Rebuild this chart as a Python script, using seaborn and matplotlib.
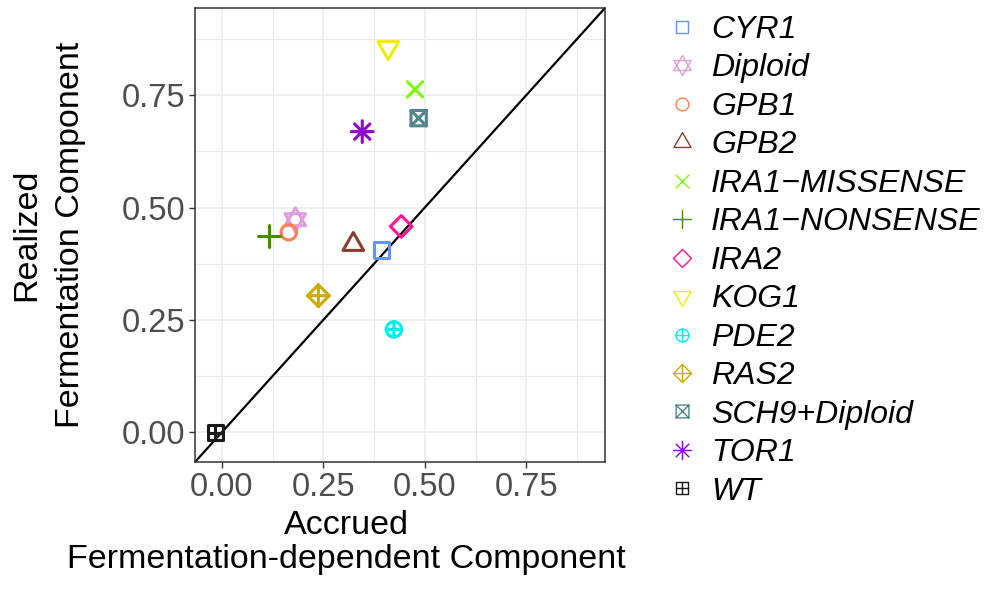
import numpy as np
import pandas as pd
import matplotlib
matplotlib.use("Agg")
import matplotlib.pyplot as plt
from matplotlib.path import Path
from matplotlib.markers import MarkerStyle
from matplotlib.lines import Line2D
from matplotlib.ticker import MultipleLocator
import seaborn as sns

# ---- data -------------------------------------------------------------
genotypes = ["CYR1", "Diploid", "GPB1", "GPB2", "IRA1-MISSENSE", "IRA1-NONSENSE",
             "IRA2", "KOG1", "PDE2", "RAS2", "SCH9+Diploid", "TOR1", "WT"]
legend_labels = ["CYR1", "Diploid", "GPB1", "GPB2", "IRA1\u2212MISSENSE",
                 "IRA1\u2212NONSENSE", "IRA2", "KOG1", "PDE2", "RAS2",
                 "SCH9+Diploid", "TOR1", "WT"]
accrued = [0.394, 0.181, 0.165, 0.324, 0.476, 0.116, 0.442, 0.410, 0.424,
           0.238, 0.485, 0.346, -0.016]
realized = [0.406, 0.473, 0.445, 0.418, 0.763, 0.436, 0.458, 0.856, 0.229,
            0.304, 0.699, 0.669, -0.001]
colors = ["#6495ED", "#DDA0DD", "#FF7F50", "#8B3E2F", "#7CFC00", "#458B00",
          "#FF1493", "#EEEE00", "#00EEEE", "#CDAD00", "#53868B", "#9400D3",
          "#1A1A1A"]
shape_codes = [0, 11, 1, 2, 4, 3, 5, 6, 10, 9, 7, 8, 12]

df = pd.DataFrame({"genotype": genotypes, "accrued": accrued, "realized": realized})

# ---- R-style point symbols built as matplotlib paths -------------------
R = 0.375
D = np.sqrt(2) * R


def poly(pts):
    verts = list(pts) + [pts[0]]
    codes = [Path.MOVETO] + [Path.LINETO] * (len(pts) - 1) + [Path.CLOSEPOLY]
    return Path(verts, codes)


def seg(p0, p1):
    return Path([p0, p1], [Path.MOVETO, Path.LINETO])


def plus(h):
    return [seg((-h, 0), (h, 0)), seg((0, -h), (0, h))]


def cross(h):
    return [seg((-h, -h), (h, h)), seg((-h, h), (h, -h))]


square = poly([(-R, -R), (R, -R), (R, R), (-R, R)])
circle = Path.circle((0, 0), R)
tr = 1.5551 * R
ty = 0.7776 * R
tx = 1.3468 * R
tri_up = poly([(0, tr), (tx, -ty), (-tx, -ty)])
tri_down = poly([(0, -tr), (tx, ty), (-tx, ty)])
diamond = poly([(0, -D), (D, 0), (0, D), (-D, 0)])


def compound(parts):
    return Path.make_compound_path(*parts)


symbol_paths = {
    0: square,
    1: circle,
    2: tri_up,
    3: compound(plus(D)),
    4: compound(cross(R)),
    5: diamond,
    6: tri_down,
    7: compound([square] + cross(R)),
    8: compound(cross(R) + plus(D)),
    9: compound([diamond] + plus(D)),
    10: compound([circle] + plus(R)),
    11: compound([tri_up, tri_down]),
    12: compound([square] + plus(R)),
}

DPI = 100
PX2PT = 72.0 / DPI


def marker_for(code, unit_px):
    p = symbol_paths[code]
    ext = np.abs(p.vertices).max()
    size_pt = 2 * ext * unit_px * PX2PT
    return MarkerStyle(p, fillstyle="none", capstyle="round", joinstyle="miter"), size_pt


# ---- figure -----------------------------------------------------------
sns.set_theme(style="white")
plt.rcParams["font.family"] = ["Liberation Sans", "DejaVu Sans"]
plt.rcParams["text.color"] = "black"

W, H = 985, 592
fig = plt.figure(figsize=(W / DPI, H / DPI), dpi=DPI)
left, right, top, bottom = 195, 605, 8, 462
ax = fig.add_axes([left / W, 1 - bottom / H, (right - left) / W, (bottom - top) / H])

lims = (-0.066, 0.944)
ax.set_xlim(lims)
ax.set_ylim(lims)

# grid
ax.xaxis.set_major_locator(MultipleLocator(0.25))
ax.yaxis.set_major_locator(MultipleLocator(0.25))
ax.xaxis.set_minor_locator(MultipleLocator(0.125))
ax.yaxis.set_minor_locator(MultipleLocator(0.125))
ax.grid(which="major", color="#EBEBEB", linewidth=1.1)
ax.grid(which="minor", color="#EBEBEB", linewidth=0.8)
ax.set_axisbelow(True)

# identity line
ax.axline((0, 0), slope=1, color="black", linewidth=1.6, zorder=2)

UNIT_PLOT = 20.5
for g, code, col in zip(genotypes, shape_codes, colors):
    m, s = marker_for(code, UNIT_PLOT)
    sns.scatterplot(data=df[df["genotype"] == g], x="accrued", y="realized",
                    marker=m, s=s ** 2, color=col, linewidth=2.2,
                    capstyle="round", ax=ax, zorder=3, legend=False)

ax.set_xticks([0, 0.25, 0.5, 0.75])
ax.set_yticks([0, 0.25, 0.5, 0.75])
ax.set_xticklabels(["0.00", "0.25", "0.50", "0.75"])
ax.set_yticklabels(["0.00", "0.25", "0.50", "0.75"])
ax.tick_params(axis="both", which="major", length=4.2, width=1.0, color="#333333",
               labelsize=23.5, labelcolor="#4D4D4D", pad=3, direction="out",
               bottom=True, left=True)
ax.tick_params(axis="both", which="minor", length=0)
for sp in ax.spines.values():
    sp.set_color("#333333")
    sp.set_linewidth(1.1)
    sp.set_visible(True)

ax.set_xlabel("Accrued\nFermentation-dependent Component", fontsize=24.5,
              color="black", linespacing=1.12)
ax.set_ylabel("Realized\nFermentation Component", fontsize=24.5,
              color="black", linespacing=1.55)
ax.xaxis.set_label_coords((346 - left) / (right - left), -(510 - bottom) / (bottom - top))
ax.xaxis.label.set_verticalalignment("top")
ax.yaxis.set_label_coords(-(left - 11) / (right - left), 0.5)
ax.yaxis.label.set_verticalalignment("top")

# legend
UNIT_LEG = 17.0
handles = []
for code, col in zip(shape_codes, colors):
    m, s = marker_for(code, UNIT_LEG)
    handles.append(Line2D([], [], linestyle="none", marker=m, markersize=s,
                          markeredgecolor=col, markeredgewidth=1.0, color=col))
leg = ax.legend(handles, legend_labels, loc="upper left",
                bbox_to_anchor=(668 / W, 1 - 15 / H), bbox_transform=fig.transFigure,
                frameon=False, borderpad=0, borderaxespad=0, handlelength=0.9,
                handletextpad=0.45, labelspacing=0.265,
                prop={"size": 23, "style": "italic"})

fig.savefig("out.png", dpi=DPI)
